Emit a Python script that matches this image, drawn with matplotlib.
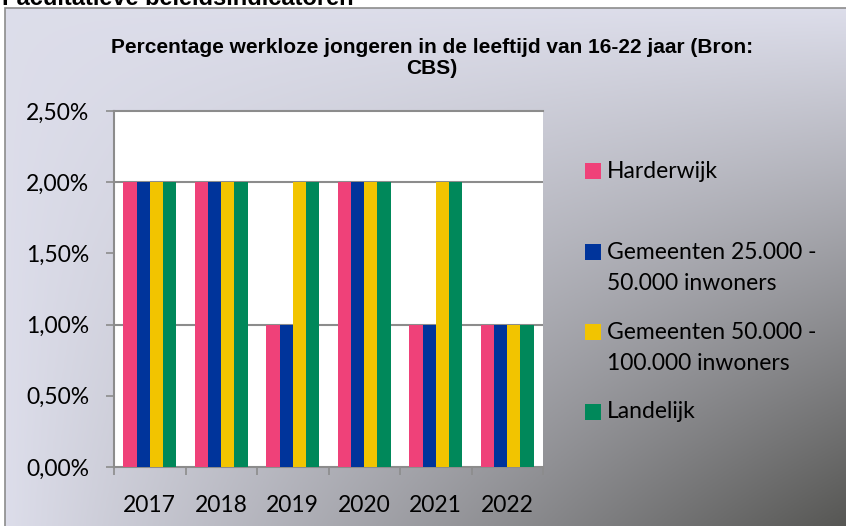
import numpy as np
import matplotlib
matplotlib.use('Agg')
import matplotlib.pyplot as plt
from matplotlib.patches import Rectangle
from matplotlib.ticker import FuncFormatter, MultipleLocator, FixedLocator

# data (percent)
years = ['2017', '2018', '2019', '2020', '2021', '2022']
harderwijk = [2.0, 2.0, 1.0, 2.0, 1.0, 1.0]
gem_25_50 = [2.0, 2.0, 1.0, 2.0, 1.0, 1.0]
gem_50_100 = [2.0, 2.0, 2.0, 2.0, 2.0, 1.0]
landelijk = [2.0, 2.0, 2.0, 2.0, 2.0, 1.0]
series_names = ['Harderwijk', 'Gemeenten 25.000 -\n50.000 inwoners',
                'Gemeenten 50.000 -\n100.000 inwoners', 'Landelijk']
colors = ['#ef4179', '#00349b', '#f2c400', '#00885a']

W, H = 846, 526
fig = plt.figure(figsize=(W / 100, H / 100), dpi=100)
fig.patch.set_facecolor('white')

# gradient chart background (light top-left -> dark bottom-right)
bg = fig.add_axes([5 / W, 0, 1 - 5 / W, 518 / H], zorder=0)
xs = np.linspace(0, 1, 300)
ys = np.linspace(0, 1, 200)
xx, yy = np.meshgrid(xs, ys)
t = (xx * yy)[..., None]
light = np.array([0.865, 0.868, 0.918])
dark = np.array([0.34, 0.34, 0.33])
bg.imshow(light * (1 - t) + dark * t, aspect='auto', extent=[0, 1, 0, 1], origin='upper')
bg.set_axis_off()
fig.add_artist(Rectangle((5 / W, -0.01), 1, 518 / H + 0.01, transform=fig.transFigure,
                         fill=False, edgecolor='#8c8c8c', lw=1.2, zorder=1))

# heading of the page, cut off at the top (as in the source)
fig.text(2 / W, 1 - 5 / H, 'Facultatieve beleidsindicatoren', fontsize=17,
         fontweight='bold', family=['Liberation Sans', 'DejaVu Sans'],
         ha='left', va='baseline')

ax = fig.add_axes([114 / W, 1 - 467 / H, 429 / W, 356 / H], zorder=2)
ax.set_facecolor('white')

x = np.arange(len(years))
bw = 0.184
all_series = [harderwijk, gem_25_50, gem_50_100, landelijk]
for i, (vals, c) in enumerate(zip(all_series, colors)):
    ax.bar(x + (i - 1.5) * bw, vals, width=bw, color=c, zorder=3)

ax.set_xlim(-0.5, len(years) - 0.5)
ax.set_ylim(0, 2.5)

grid_c = '#8c8c8c'
for gy in [1.0, 2.0]:
    ax.axhline(gy, color=grid_c, lw=1.5, zorder=1)

for s in ['left', 'bottom', 'top']:
    ax.spines[s].set_color(grid_c)
    ax.spines[s].set_linewidth(1.5)
ax.spines['right'].set_visible(False)

ax.yaxis.set_major_locator(MultipleLocator(0.5))
ax.yaxis.set_major_formatter(FuncFormatter(lambda v, _: f'{v:.2f}%'.replace('.', ',')))
ax.xaxis.set_major_locator(FixedLocator(x))
ax.xaxis.set_minor_locator(FixedLocator(np.arange(-0.5, len(years), 1.0)))
ax.set_xticklabels(years)
ax.tick_params(axis='x', which='major', length=0, pad=20)
ax.tick_params(axis='x', which='minor', length=6, width=1.2, color=grid_c, direction='out')
ax.tick_params(axis='y', length=6, width=1.2, color=grid_c, direction='out', pad=12)
for lab in ax.get_xticklabels() + ax.get_yticklabels():
    lab.set_fontfamily('Lato')
    lab.set_fontsize(16.5)

# title
fig.text(432 / W, 1 - 58 / H, 'Percentage werkloze jongeren in de leeftijd van 16-22 jaar (Bron:\nCBS)',
         ha='center', va='center', multialignment='center', fontsize=15,
         fontweight='bold', family=['Liberation Sans Narrow', 'Liberation Sans'],
         linespacing=1.15)

# legend
leg_y = [171, 268, 348, 412]
for name, c, yc in zip(series_names, colors, leg_y):
    nlines = name.count('\n') + 1
    top_line = yc - (nlines - 1) * 16
    fig.add_artist(Rectangle((585 / W, 1 - (top_line + 8) / H), 16 / W, 16 / H,
                             transform=fig.transFigure, facecolor=c, edgecolor='none', zorder=3))
    fig.text(607 / W, 1 - yc / H, name, ha='left', va='center', fontsize=16.5,
             family='Lato', linespacing=1.6)

fig.savefig('out.png', dpi=100)
